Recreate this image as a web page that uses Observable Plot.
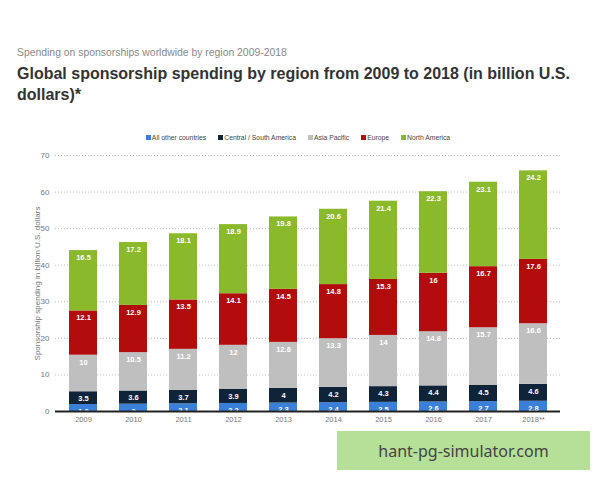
<!DOCTYPE html>
<html>
<head>
<meta charset="utf-8">
<script src="https://cdn.jsdelivr.net/npm/d3@7"></script>
<script src="https://cdn.jsdelivr.net/npm/@observablehq/plot@0.6"></script>
<style>
  html, body { margin: 0; padding: 0; background: #fff; }
  #page { position: relative; width: 600px; height: 480px; overflow: hidden; font-family: "Liberation Sans", Arial, sans-serif; }
  #subtitle { position: absolute; left: 17px; top: 47px; font-size: 10.4px; color: #888; }
  #title { position: absolute; left: 17px; top: 63px; width: 560px; font-size: 16px; font-weight: bold; color: #333; line-height: 21px; }
  #legend { position: absolute; left: 0; width: 596px; top: 134px; display: flex; justify-content: center; gap: 12px; font-size: 6.8px; color: #444; }
  #legend span.sw { display: inline-block; width: 5px; height: 5px; margin-right: 1px; vertical-align: 0px; }
  #chart { position: absolute; left: 0; top: 145px; }
  #mark { position: absolute; left: 337px; top: 431px; width: 253px; height: 39px; background: #b6df97; color: #444; font-family: "Noto Sans", sans-serif; font-size: 16px; display: flex; align-items: center; justify-content: center; }
</style>
</head>
<body>
<div id="page">
  <div id="subtitle">Spending on sponsorships worldwide by region 2009-2018</div>
  <div id="title">Global sponsorship spending by region from 2009 to 2018 (in billion U.S. dollars)*</div>
  <div id="legend"></div>
  <div id="chart"></div>
  <div id="mark">hant-pg-simulator.com</div>
</div>
<script>
// Sponsorship spending in billion U.S. dollars, per region and year
const years = ["2009", "2010", "2011", "2012", "2013", "2014", "2015", "2016", "2017", "2018**"];
const regions = ["All other countries", "Central / South America", "Asia Pacific", "Europe", "North America"];
const colors = ["#3a80d8", "#0f2339", "#bfbfbf", "#b30c0c", "#8ab92c"];

const allOther = [1.9, 2, 2.1, 2.2, 2.3, 2.4, 2.5, 2.6, 2.7, 2.8];
const centralSouthAmerica = [3.5, 3.6, 3.7, 3.9, 4, 4.2, 4.3, 4.4, 4.5, 4.6];
const asiaPacific = [10, 10.5, 11.2, 12, 12.6, 13.3, 14, 14.8, 15.7, 16.6];
const europe = [12.1, 12.9, 13.5, 14.1, 14.5, 14.8, 15.3, 16, 16.7, 17.6];
const northAmerica = [16.5, 17.2, 18.1, 18.9, 19.8, 20.6, 21.4, 22.3, 23.1, 24.2];

const yTicks = [0, 10, 20, 30, 40, 50, 60, 70];

const series = [allOther, centralSouthAmerica, asiaPacific, europe, northAmerica];
const rows = [];
series.forEach((vals, i) => {
  vals.forEach((v, j) => rows.push({ year: years[j], region: regions[i], value: v }));
});

// Legend
const legend = document.getElementById("legend");
regions.forEach((r, i) => {
  const item = document.createElement("div");
  item.innerHTML = `<span class="sw" style="background:${colors[i]}"></span>${r}`;
  legend.appendChild(item);
});

const stackOpts = { x: "year", y: "value", z: "region", order: regions };

const chart = Plot.plot({
  width: 600,
  height: 285,
  marginTop: 10,
  marginBottom: 19,
  marginLeft: 55,
  marginRight: 40,
  style: { fontFamily: "Liberation Sans, Arial, sans-serif", background: "#fff" },
  x: { domain: years, paddingInner: 0.44, paddingOuter: 0.26 },
  y: { domain: [0, 70] },
  color: { domain: regions, range: colors },
  marks: [
    Plot.gridY(yTicks, { stroke: "#bbb", strokeOpacity: 1, strokeDasharray: "1,2" }),
    Plot.axisY(yTicks, { tickSize: 0, tickPadding: 6, fontSize: 8, color: "#777",
      label: "Sponsorship spending in billion U.S. dollars", labelAnchor: "center", labelArrow: "none", labelOffset: 21 }),
    Plot.axisX({ tickSize: 0, tickPadding: 5.5, fontSize: 7.5, color: "#777", label: null }),
    Plot.barY(rows, Plot.stackY({ ...stackOpts, fill: "region" })),
    Plot.text(rows, Plot.stackY2({ ...stackOpts, text: d => String(d.value), dy: 7,
      fill: "#fff", fontSize: 7.5, fontWeight: "bold" })),
    Plot.ruleY([0], { stroke: "#222", strokeWidth: 2 })
  ]
});
document.getElementById("chart").appendChild(chart);
</script>
</body>
</html>
